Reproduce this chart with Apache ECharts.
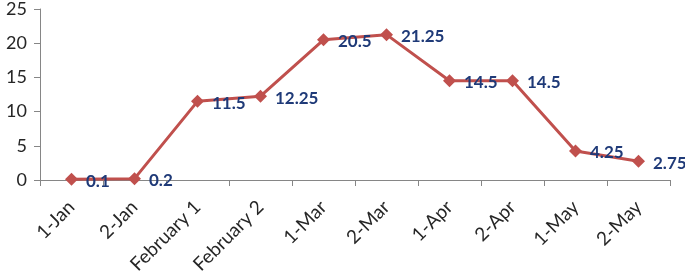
<!DOCTYPE html>
<html><head><meta charset="utf-8">
<script src="https://cdn.jsdelivr.net/npm/echarts@6/dist/echarts.min.js"></script>
<style>html,body{margin:0;padding:0;background:#fff}#c{width:685px;height:275px}</style>
</head><body><div id="c"></div>
<script>
const categories = ['1-Jan','2-Jan','February 1','February 2','1-Mar','2-Mar','1-Apr','2-Apr','1-May','2-May'];
const values = [0.1,0.2,11.5,12.25,20.5,21.25,14.5,14.5,4.25,2.75];
const yTicks = {min:0,max:25,interval:5};
const chart = echarts.init(document.getElementById('c'));
chart.setOption({
  animation:false,
  grid:{left:40,right:15,top:9,bottom:95,outerBoundsMode:'none',containLabel:false},
  xAxis:{type:'category',data:categories,boundaryGap:true,
    axisLine:{lineStyle:{color:'#868686',width:1}},
    axisTick:{show:true,length:6,lineStyle:{color:'#868686'}},
    axisLabel:{rotate:45,color:'#262626',fontFamily:'Lato',fontSize:19,margin:24,interval:0}},
  yAxis:{type:'value',min:yTicks.min,max:yTicks.max,interval:yTicks.interval,
    axisLine:{show:true,lineStyle:{color:'#868686',width:1}},
    axisTick:{show:true,length:6,lineStyle:{color:'#868686'}},
    splitLine:{show:false},
    axisLabel:{color:'#262626',fontFamily:'Lato',fontSize:18,margin:13}},
  series:[{type:'line',data:values,symbol:'diamond',symbolSize:13,
    lineStyle:{color:'#C0504D',width:3},itemStyle:{color:'#C0504D'},
    label:{show:true,position:'right',distance:8,offset:[0,2],color:'#1F3A78',fontFamily:'Lato',fontSize:17,fontWeight:'bold'}}]
});
</script></body></html>
